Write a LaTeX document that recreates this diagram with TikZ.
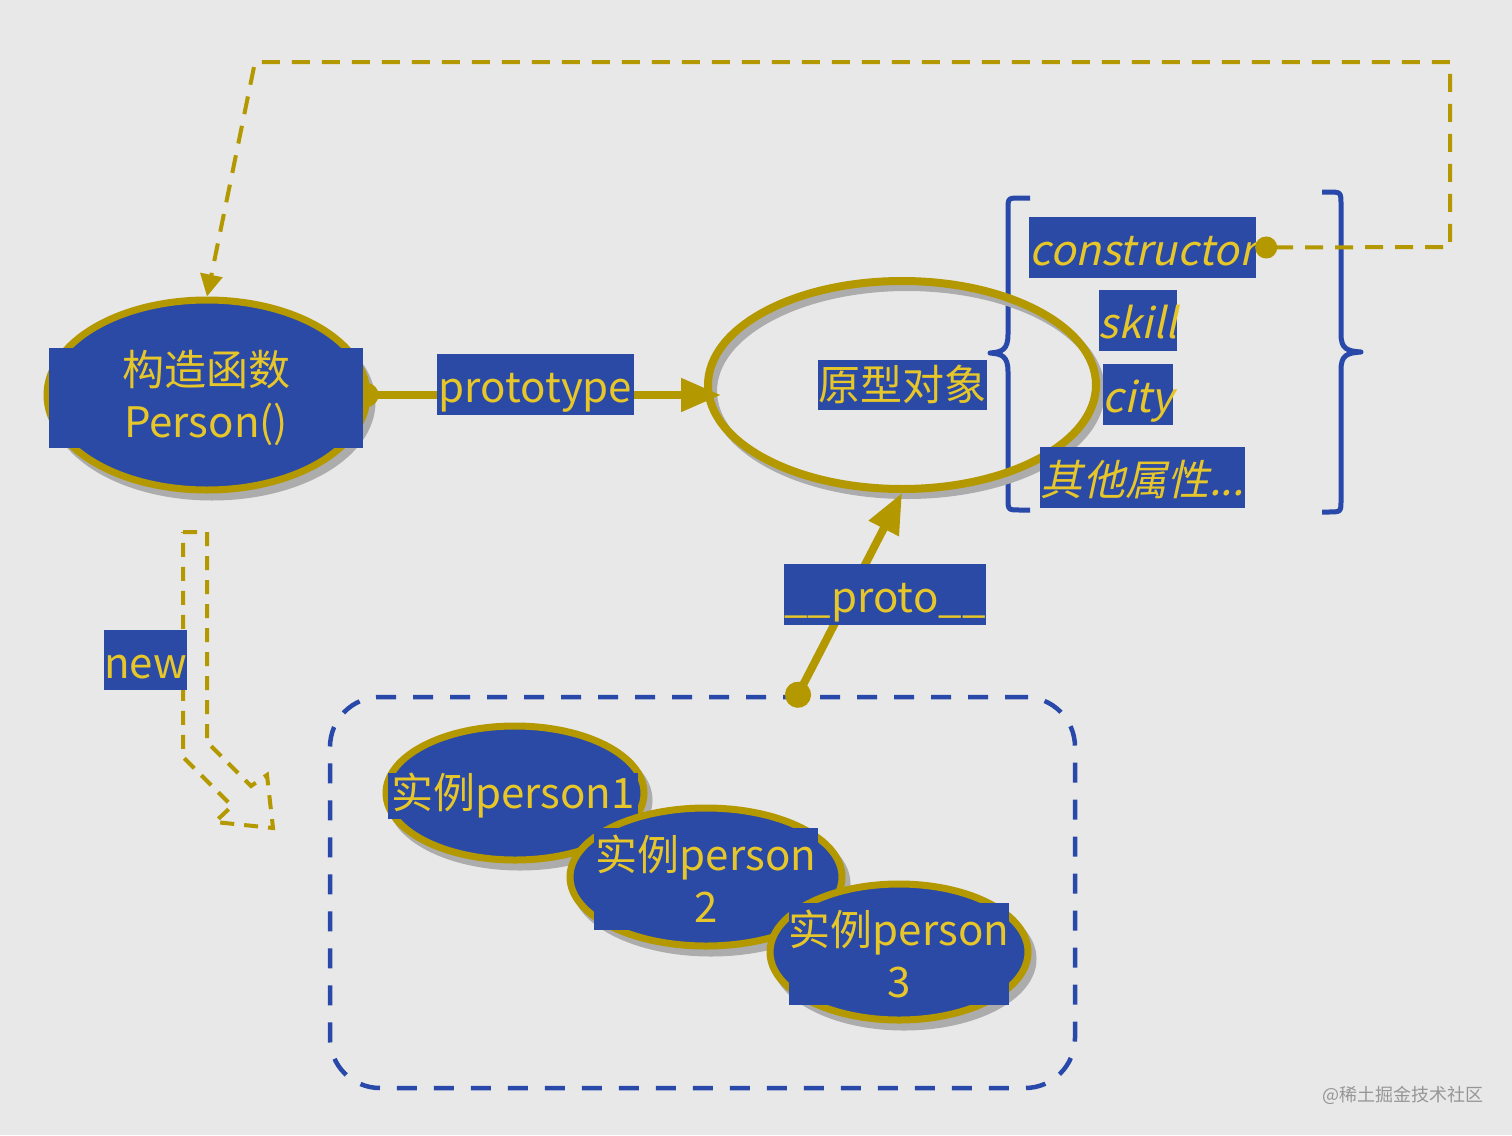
\documentclass[tikz,border=0pt]{standalone}
\usepackage{fontspec}
\setmainfont{Noto Sans CJK SC}
\newfontfamily\slantfont[FakeSlant=0.22]{Noto Sans CJK SC}
\usetikzlibrary{positioning, shapes.geometric, arrows.meta, shadows}
\definecolor{bggrey}{RGB}{232,232,232}
\definecolor{boxblue}{RGB}{42,74,166}
\definecolor{braceblue}{RGB}{40,72,170}
\definecolor{gold}{RGB}{180,152,0}
\definecolor{txtyellow}{RGB}{230,198,40}
\definecolor{shadowgrey}{RGB}{172,172,172}
\definecolor{markgrey}{RGB}{150,150,150}

\begin{document}
\begin{tikzpicture}[x=1pt, y=-1pt,
    lbl/.style={fill=boxblue, text=txtyellow, inner sep=0pt, align=center,
        font=\fontsize{42}{52}\selectfont},
    oneline/.style={text height=38pt, text depth=2pt},
    prop/.style={lbl, oneline, font=\slantfont\fontsize{42}{52}\selectfont},
    bubble/.style={ellipse, draw=gold, line width=7pt, fill=boxblue, inner sep=0pt,
        drop shadow={shadow xshift=5pt, shadow yshift=-7pt, fill=shadowgrey,
            draw=shadowgrey, opacity=1}},
    conn/.style={draw=gold, line width=8pt},
    loopline/.style={draw=gold, line width=4pt, dash pattern=on 18pt off 12pt},
    brace/.style={draw=braceblue, line width=5pt, line join=round},
]
    % canvas
    \fill[bggrey] (0,0) rectangle (1512,1135);
    \useasboundingbox (0,0) rectangle (1512,1135);

    % group of instances
    \node[draw=braceblue, line width=4.5pt, dash pattern=on 20pt off 17pt,
        rounded corners=50pt, minimum width=745pt, minimum height=391pt]
        (grp) at (702.5,892.5) {};
    \coordinate (pdot) at ([xshift=95.5pt]grp.north);

    % braces around the properties
    \draw[brace] (1030,198) -- (1020,198) .. controls (1008,198) .. (1008,210)
        -- (1008,334) .. controls (1008,350) and (1002,352) .. (990,353)
        .. controls (1002,354) and (1008,356) .. (1008,372) -- (1008,498)
        .. controls (1008,510) .. (1020,510) -- (1030,510);
    \draw[brace] (1322,192) -- (1328,192) .. controls (1341,192) .. (1341,205)
        -- (1341,334) .. controls (1341,349) and (1347,351) .. (1361,352)
        .. controls (1347,353) and (1341,355) .. (1341,370) -- (1341,500)
        .. controls (1341,512) .. (1328,512) -- (1322,512);

    % prototype object
    \draw[shadowgrey, line width=8pt] (907,391) ellipse [x radius=194, y radius=104];
    \node[ellipse, draw=gold, line width=8pt, inner sep=0pt,
        minimum width=388pt, minimum height=208pt] (protoell) at (902,385) {};
    \node[lbl, text height=36pt, text depth=6pt, minimum width=169pt, minimum height=50pt]
        (objlbl) at (902.5,385) {原型对象};

    % constructor
    \node[bubble, minimum width=320pt, minimum height=190pt] (ctorell) at (207,395) {};
    \draw[conn, {Circle[length=24pt]}-{Triangle[length=40pt, width=32pt]},
        shorten <=-16pt, shorten >=-17pt] (ctorell.east) -- (ctorell.east -| protoell.west);
    \node[lbl, minimum width=314pt, minimum height=100pt] (ctorlbl) at (206,398) {构造函数\\Person()};
    \node[lbl, oneline, minimum width=197pt, minimum height=61pt] (protolbl) at (535.5,384) {prototype};

    % properties
    \node[prop, minimum width=227pt, minimum height=61pt] (pctor) at (1142.5,247.5) {constructor};
    \node[prop, minimum width=78pt, minimum height=61pt] (pskill) at (1138,320.5) {skill};
    \node[prop, minimum width=70pt, minimum height=61pt] (pcity) at (1138,394.5) {city};
    \node[prop, minimum width=205pt, minimum height=61pt] (pother) at (1142.5,477.5) {其他属性...};

    % constructor points back
    \coordinate (cdot) at ([xshift=10pt]pctor.east);
    \coordinate (c1) at (1450,247);
    \coordinate (c2) at (1450,62);
    \coordinate (c3) at (255,62);
    \draw[loopline, {Circle[length=22pt]}-{Triangle[length=22pt, width=22pt]},
        shorten <=-11pt] (cdot) -- (c1) -- (c2) -- (c3) -- (ctorell.north);

    % new
    \draw[gold, line width=4pt, dash pattern=on 14pt off 10pt]
        (183,532) -- (207,532) -- (207,742) -- (251,786) -- (267,775) -- (273,828)
        -- (215,822) -- (232,806) -- (183,757) -- cycle;
    \node[lbl, oneline, minimum width=83pt, minimum height=60pt] (newlbl) at (145.5,660) {new};

    % instances
    \node[bubble, minimum width=258pt, minimum height=134pt] (inst1) at (515,793) {};
    \node[lbl, minimum width=250pt, minimum height=46pt] (ilbl1) at (513,796) {实例person1};
    \node[bubble, minimum width=272pt, minimum height=138pt] (inst2) at (706,877) {};
    \node[lbl, minimum width=224pt, minimum height=102pt] (ilbl2) at (706,879) {实例person\\2};
    \node[bubble, minimum width=258pt, minimum height=136pt] (inst3) at (899,952) {};
    \node[lbl, minimum width=220pt, minimum height=102pt] (ilbl3) at (899,954) {实例person\\3};

    % __proto__ link
    \draw[conn, {Circle[length=26pt]}-{Triangle[length=40pt, width=32pt]},
        shorten <=-13pt] (pdot) -- (protoell.south);
    \node[lbl, oneline, minimum width=202pt, minimum height=61pt] (uproto) at (885,594.5) {\_\_proto\_\_};

    % watermark
    \node[text=markgrey, font=\fontsize{18}{20}\selectfont] (mark) at (1403,1095) {@稀土掘金技术社区};
\end{tikzpicture}
\end{document}
